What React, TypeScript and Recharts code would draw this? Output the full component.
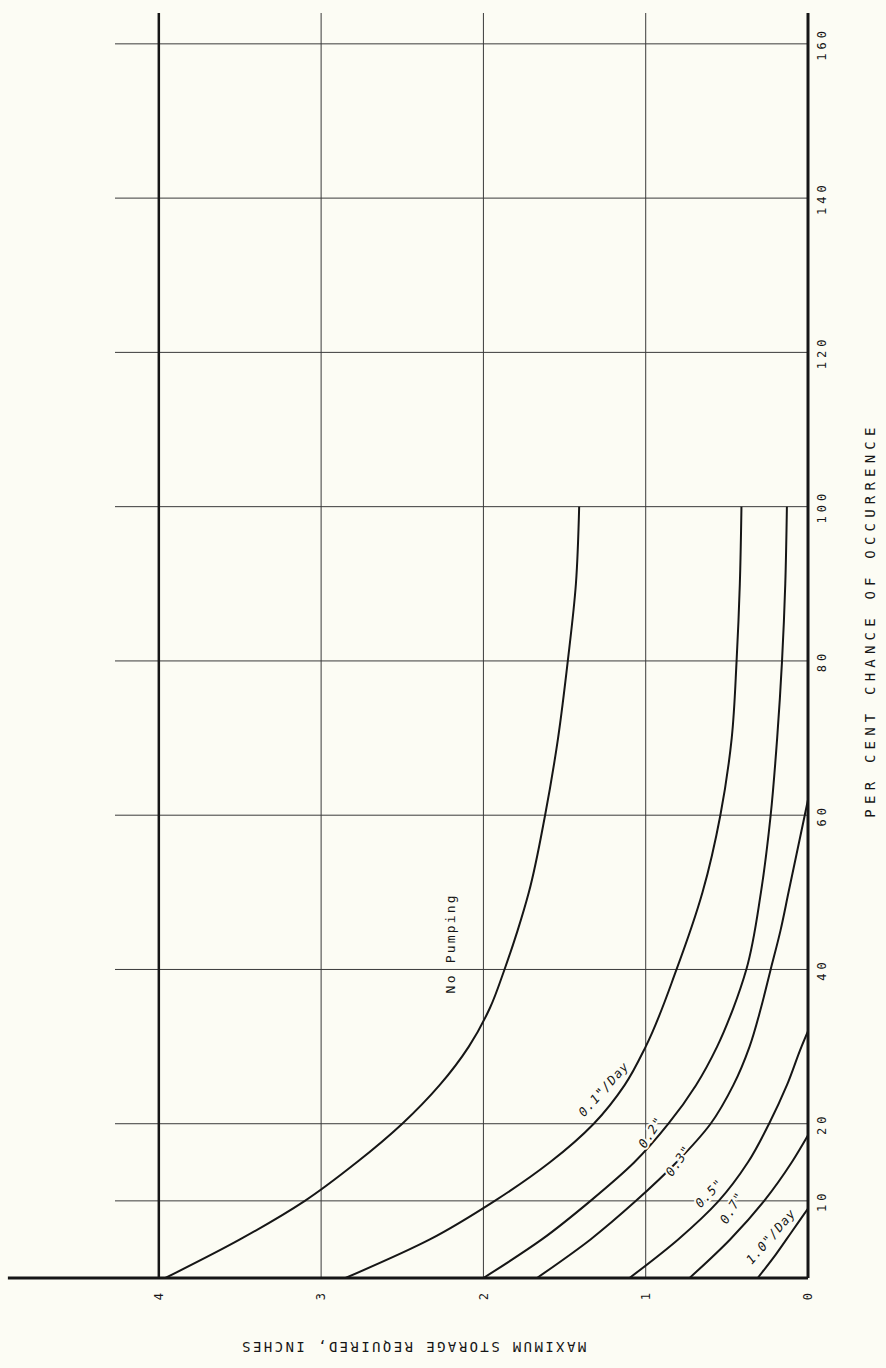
import React from 'react';
import {
  ComposedChart,
  Line,
  XAxis,
  YAxis,
  ReferenceLine,
  ReferenceDot,
  Label,
} from 'recharts';

// ---- data (percent chance of occurrence -> max storage required, inches) ----
const percentTicks = [10, 20, 40, 60, 80, 100, 120, 140, 160];
const storageTicks = [0, 1, 2, 3, 4];
const storageGrid = [1, 2, 3];

const noPumpP = [0, 5, 10, 15, 20, 25, 30, 35, 40, 45, 50, 60, 70, 80, 90, 100];
const noPumpS = [3.96, 3.5, 3.1, 2.78, 2.5, 2.27, 2.09, 1.96, 1.87, 1.79, 1.72, 1.62, 1.54, 1.48, 1.43, 1.41];

const p01P = [0, 5, 10, 15, 20, 25, 30, 40, 50, 60, 70, 80, 90, 100];
const p01S = [2.85, 2.33, 1.93, 1.59, 1.32, 1.13, 1.0, 0.81, 0.65, 0.54, 0.47, 0.44, 0.42, 0.41];

const p02P = [0, 5, 10, 15, 20, 25, 30, 35, 40, 50, 60, 70, 80, 90, 100];
const p02S = [2.0, 1.64, 1.34, 1.07, 0.86, 0.69, 0.56, 0.46, 0.38, 0.29, 0.23, 0.19, 0.16, 0.14, 0.13];

const p03P = [0, 5, 10, 15, 20, 25, 30, 35, 40, 45, 50, 55, 60, 62];
const p03S = [1.67, 1.34, 1.06, 0.81, 0.6, 0.46, 0.36, 0.29, 0.23, 0.17, 0.12, 0.07, 0.02, 0];

const p05P = [0, 5, 10, 15, 20, 25, 30, 32];
const p05S = [1.1, 0.8, 0.55, 0.37, 0.24, 0.13, 0.04, 0];

const p07P = [0, 5, 10, 15, 18.5];
const p07S = [0.73, 0.48, 0.27, 0.1, 0];

const p10P = [0, 3, 6, 9];
const p10S = [0.31, 0.2, 0.1, 0];

const curveLabels = ['0.1"/Day', '0.2"', '0.3"', '0.5"', '0.7"', '1.0"/Day', 'No Pumping'];
const labelP = [24.5, 18.9, 15.2, 11.0, 9.1, 5.4, 43.4];
const labelS = [1.26, 0.97, 0.8, 0.61, 0.47, 0.23, 2.2];
const labelAngle = [42, 33, 35, 44, 31, 41, 0];

const xTitle = 'PER CENT CHANCE OF OCCURRENCE';
const yTitle = 'MAXIMUM STORAGE REQUIRED, INCHES';

// ---- helpers ----
const zip = (p: number[], s: number[]) => p.map((v, i) => ({ p: v, s: s[i] }));
const series = [
  zip(noPumpP, noPumpS),
  zip(p01P, p01S),
  zip(p02P, p02S),
  zip(p03P, p03S),
  zip(p05P, p05S),
  zip(p07P, p07S),
  zip(p10P, p10S),
];

const BG = '#fcfcf4';
const INK = '#161616';
const GRID = '#3a3a3a';
const MONO = "'DejaVu Sans Mono', 'Liberation Mono', monospace";

const XTitle = () => (
  <text
    x={748}
    y={870}
    textAnchor="middle"
    dominantBaseline="central"
    fontFamily={MONO}
    fontSize={14}
    letterSpacing={5.2}
    fill={INK}
  >
    {xTitle}
  </text>
);

const YTitle = () => (
  <text
    x={21}
    y={413}
    transform="rotate(-90 21 413)"
    textAnchor="middle"
    dominantBaseline="central"
    fontFamily={MONO}
    fontSize={14}
    letterSpacing={2.4}
    fill={INK}
  >
    {yTitle}
  </text>
);

const makeLabelShape = (i: number) => (props: any) => {
  const { cx, cy } = props;
  const isNP = i === curveLabels.length - 1;
  return (
    <text
      transform={`translate(${cx},${cy}) rotate(${labelAngle[i]})`}
      textAnchor="middle"
      dominantBaseline="central"
      fontFamily={MONO}
      fontSize={isNP ? 13 : 12.5}
      fontStyle={isNP ? 'normal' : 'italic'}
      letterSpacing={isNP ? 2.2 : 1}
      fill={INK}
      stroke={BG}
      strokeWidth={isNP ? 7 : 4}
      paintOrder="stroke"
    >
      {curveLabels[i]}
    </text>
  );
};

export default function App() {
  return (
    <div
      style={{
        position: 'absolute',
        left: 0,
        top: 0,
        width: 886,
        height: 1368,
        background: BG,
        overflow: 'hidden',
      }}
    >
      <div
        style={{
          position: 'absolute',
          left: 0,
          top: 0,
          width: 1368,
          height: 886,
          transformOrigin: '0 0',
          transform: 'translateY(1368px) rotate(-90deg)',
        }}
      >
        <ComposedChart
          width={1368}
          height={886}
          margin={{ top: 115, right: 13, bottom: 0, left: 0 }}
        >
          <XAxis
            type="number"
            dataKey="p"
            domain={[0, 164]}
            ticks={percentTicks}
            height={78}
            axisLine={{ stroke: INK, strokeWidth: 3 }}
            tickLine={false}
            tickSize={0}
            tickMargin={9}
            tick={{ fontFamily: MONO, fontSize: 12, letterSpacing: 4, fill: INK }}
            allowDataOverflow
          >
            <Label content={XTitle} />
          </XAxis>
          <YAxis
            type="number"
            dataKey="s"
            domain={[0, 4.27]}
            ticks={storageTicks}
            width={90}
            axisLine={false}
            tickLine={false}
            tickSize={0}
            tickMargin={15}
            tick={{ fontFamily: MONO, fontSize: 12, fill: INK }}
            allowDataOverflow
          >
            <Label content={YTitle} />
          </YAxis>
          {percentTicks.map((t) => (
            <ReferenceLine key={'gx' + t} x={t} stroke={GRID} strokeWidth={1} />
          ))}
          {storageGrid.map((t) => (
            <ReferenceLine key={'gy' + t} y={t} stroke={GRID} strokeWidth={1} />
          ))}
          <ReferenceLine y={4} stroke={INK} strokeWidth={2.5} />
          <ReferenceLine
            segment={[
              { x: 0, y: 0 },
              { x: 0, y: 4.93 },
            ]}
            stroke={INK}
            strokeWidth={3}
            ifOverflow="visible"
          />
          {series.map((d, i) => (
            <Line
              key={i}
              data={d}
              dataKey="s"
              type="monotone"
              stroke={INK}
              strokeWidth={2}
              dot={false}
              activeDot={false}
              isAnimationActive={false}
            />
          ))}
          {curveLabels.map((_, i) => (
            <ReferenceDot
              key={'lab' + i}
              x={labelP[i]}
              y={labelS[i]}
              r={0}
              shape={makeLabelShape(i)}
            />
          ))}
        </ComposedChart>
      </div>
    </div>
  );
}
